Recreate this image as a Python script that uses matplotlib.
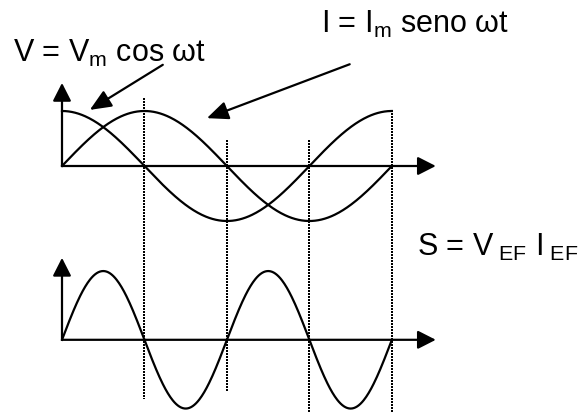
import numpy as np
import matplotlib
matplotlib.use('Agg')
import matplotlib.pyplot as plt

plt.rcParams['font.family'] = ['Liberation Sans', 'DejaVu Sans']
plt.rcParams['mathtext.fontset'] = 'custom'
plt.rcParams['mathtext.rm'] = 'Liberation Sans'
plt.rcParams['mathtext.it'] = 'Liberation Sans:italic'

# phase angles (rad) for one full cycle, and the quarter-period markers
theta = np.linspace(0, 2 * np.pi, 400)
quarter_marks = [np.pi / 2, np.pi, 3 * np.pi / 2, 2 * np.pi]

v_amp = 1.0          # V = Vm cos wt
i_amp = 1.0          # I = Im seno wt
s_amp = 1.25         # product, drawn on lower panel
s_offset = -3.16     # baseline of the lower panel

v_curve = v_amp * np.cos(theta)
i_curve = i_amp * np.sin(theta)
s_curve = s_offset + s_amp * np.sin(2 * theta)

# dotted guide extents (top, bottom) for each quarter mark
guide_top = [1.24, 0.47, 0.47, 1.02]
guide_bottom = [-4.24, -4.09, -4.48, -4.48]

fig = plt.figure(figsize=(5.82, 4.12), dpi=100)
ax = fig.add_axes([0, 0, 1, 1])
ax.set_xlim(-62 / 52.5, 520 / 52.5)
ax.set_ylim(-246 / 55, 166 / 55)
ax.axis('off')

lw = 1.6
head = '-|>,head_length=0.55,head_width=0.28'

def axis_arrow(x0, y0, x1, y1):
    ax.annotate('', xy=(x1, y1), xytext=(x0, y0),
                arrowprops=dict(arrowstyle=head, color='black', lw=lw,
                                mutation_scale=20, shrinkA=0, shrinkB=0))

# top panel axes
axis_arrow(0, 0, 0, 1.51)
axis_arrow(0, 0, 7.12, 0)
# bottom panel axes
axis_arrow(0, s_offset, 0, s_offset + 1.49)
axis_arrow(0, s_offset, 7.12, s_offset)

ax.plot(theta, v_curve, color='black', lw=lw)
ax.plot(theta, i_curve, color='black', lw=lw)
ax.plot(theta, s_curve, color='black', lw=lw)

for xm, yt, yb in zip(quarter_marks, guide_top, guide_bottom):
    ax.plot([xm, xm], [yt, yb], color='black', lw=1.3, ls=(0, (1, 1.1)),
            antialiased=False)

# labels and pointer arrows
fs = 22
ax.text(-0.933, 1.89, r'V = $\mathrm{V}_\mathrm{m}$ cos ωt', fontsize=fs, va='baseline')
ax.text(4.93, 2.42, r'I = $\mathrm{I}_\mathrm{m}$ seno ωt', fontsize=fs, va='baseline')
ax.text(6.76, -1.636, r'S = $\mathrm{V}_{\mathrm{\ EF}}\ \mathrm{I}_{\mathrm{\ EF}}$', fontsize=fs, va='baseline')

ptr = '-|>,head_length=0.65,head_width=0.28'
ax.annotate('', xy=(0.53, 1.02), xytext=(1.92, 1.84),
            arrowprops=dict(arrowstyle=ptr, color='black', lw=lw,
                            mutation_scale=20, shrinkA=0, shrinkB=0))
ax.annotate('', xy=(2.76, 0.87), xytext=(5.48, 1.85),
            arrowprops=dict(arrowstyle=ptr, color='black', lw=lw,
                            mutation_scale=20, shrinkA=0, shrinkB=0))

fig.savefig('out.png', dpi=100)
